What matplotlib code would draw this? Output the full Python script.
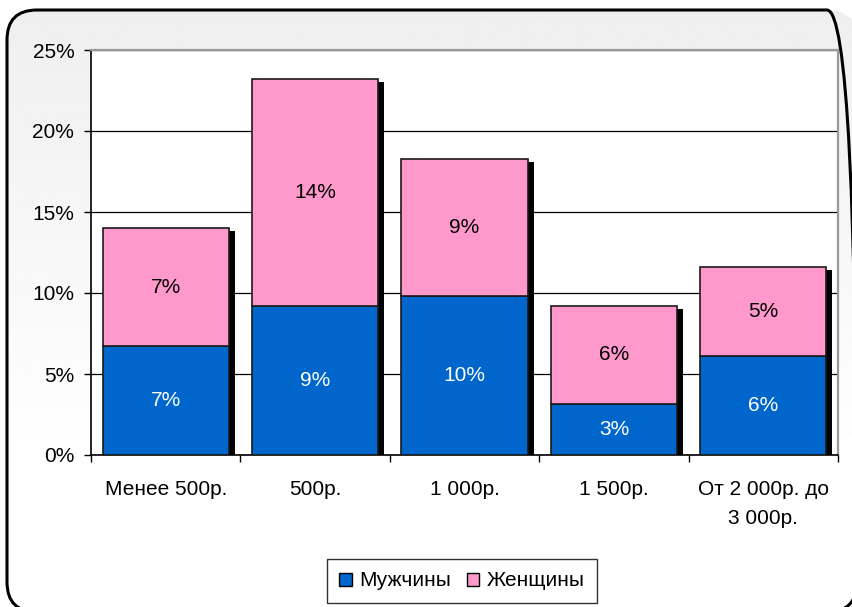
import numpy as np
import matplotlib
matplotlib.use("Agg")
import matplotlib.pyplot as plt
from matplotlib.patches import FancyBboxPatch, Patch
from matplotlib.transforms import ScaledTranslation

plt.rcParams['font.family'] = ['Liberation Sans', 'DejaVu Sans']

categories = ["Менее 500р.", "500р.", "1 000р.", "1 500р.", "От 2 000р. до\n3 000р."]
men = [6.7, 9.2, 9.8, 3.15, 6.1]
women = [7.3, 14.0, 8.5, 6.05, 5.5]
men_labels = ["7%", "9%", "10%", "3%", "6%"]
women_labels = ["7%", "14%", "9%", "6%", "5%"]
series_names = ["Мужчины", "Женщины"]
yticks = [0, 5, 10, 15, 20, 25]
ytick_labels = ["0%", "5%", "10%", "15%", "20%", "25%"]

W, H = 853, 607
FS = 15
fig = plt.figure(figsize=(W / 100, H / 100), dpi=100)
fig.patch.set_facecolor('white')

# background with rounded border and gradient
bg = fig.add_axes([0, 0, 1, 1], zorder=-10)
bg.set_xlim(0, W)
bg.set_ylim(0, H)
bg.axis('off')
frame = FancyBboxPatch((7, -5), 850, H - 10 + 5, boxstyle="round,pad=0,rounding_size=30",
                       facecolor='none', edgecolor='black', linewidth=2.2, transform=bg.transData,
                       clip_on=False)
grad = np.concatenate([np.ones(60), np.linspace(1.0, 0.935, 196)]).reshape(-1, 1)
im = bg.imshow(grad, extent=[0, W, 0, H], origin='lower', cmap='gray', vmin=0, vmax=1,
               aspect='auto', interpolation='bilinear')
bg.add_patch(frame)
im.set_clip_path(frame)

ax = fig.add_axes([91 / W, 1 - 455 / H, (838 - 91) / W, (455 - 50) / H])
ax.set_facecolor('white')
x = np.arange(len(categories))
width = 0.845

shadow = ax.transData + ScaledTranslation(6 / 100, -3 / 100, fig.dpi_scale_trans)
tot = np.array(men) + np.array(women)
ax.bar(x, tot, width, color='black', transform=shadow, zorder=2)
ax.bar(x, men, width, color='#0066cc', edgecolor='#1a1a1a', linewidth=1.2, zorder=3, label=series_names[0])
ax.bar(x, women, width, bottom=men, color='#ff99cc', edgecolor='#1a1a1a', linewidth=1.2, zorder=3,
       label=series_names[1])

for i in range(len(categories)):
    ax.text(x[i], men[i] / 2, men_labels[i], ha='center', va='center', color='white', fontsize=FS, zorder=4)
    ax.text(x[i], men[i] + women[i] / 2, women_labels[i], ha='center', va='center', color='black',
            fontsize=FS, zorder=4)

ax.set_xlim(-0.5, len(categories) - 0.5)
ax.set_ylim(0, 25)
ax.set_yticks(yticks)
ax.set_yticklabels(ytick_labels, fontsize=FS)
ax.yaxis.grid(True, color='black', linewidth=0.9, zorder=1)
ax.set_axisbelow(True)
ax.set_xticks(np.arange(len(categories) + 1) - 0.5)
ax.set_xticklabels([])
ax.set_xticks(x, minor=True)
ax.set_xticklabels(categories, minor=True, fontsize=FS, linespacing=1.7)
ax.tick_params(axis='x', which='minor', length=0, pad=18)
ax.tick_params(axis='x', which='major', length=5, width=1, direction='out')
ax.tick_params(axis='y', length=5, width=1, direction='out', pad=7)
for s in ['left', 'bottom']:
    ax.spines[s].set_color('black')
    ax.spines[s].set_linewidth(1.2)
for s in ['top', 'right']:
    ax.spines[s].set_color('#999999')
    ax.spines[s].set_linewidth(1.6)

handles = [Patch(facecolor='#0066cc', edgecolor='black'), Patch(facecolor='#ff99cc', edgecolor='black')]
leg = fig.legend(handles, series_names, loc='center', bbox_to_anchor=(462 / W, 1 - 581 / H), ncol=2,
                 fontsize=FS, frameon=True, fancybox=False, edgecolor='black', handlelength=0.6,
                 handleheight=0.6, handletextpad=0.35, columnspacing=0.75, borderpad=0.6)
leg.get_frame().set_linewidth(1.0)
leg.get_frame().set_facecolor('white')

fig.savefig("out.png", dpi=100)
